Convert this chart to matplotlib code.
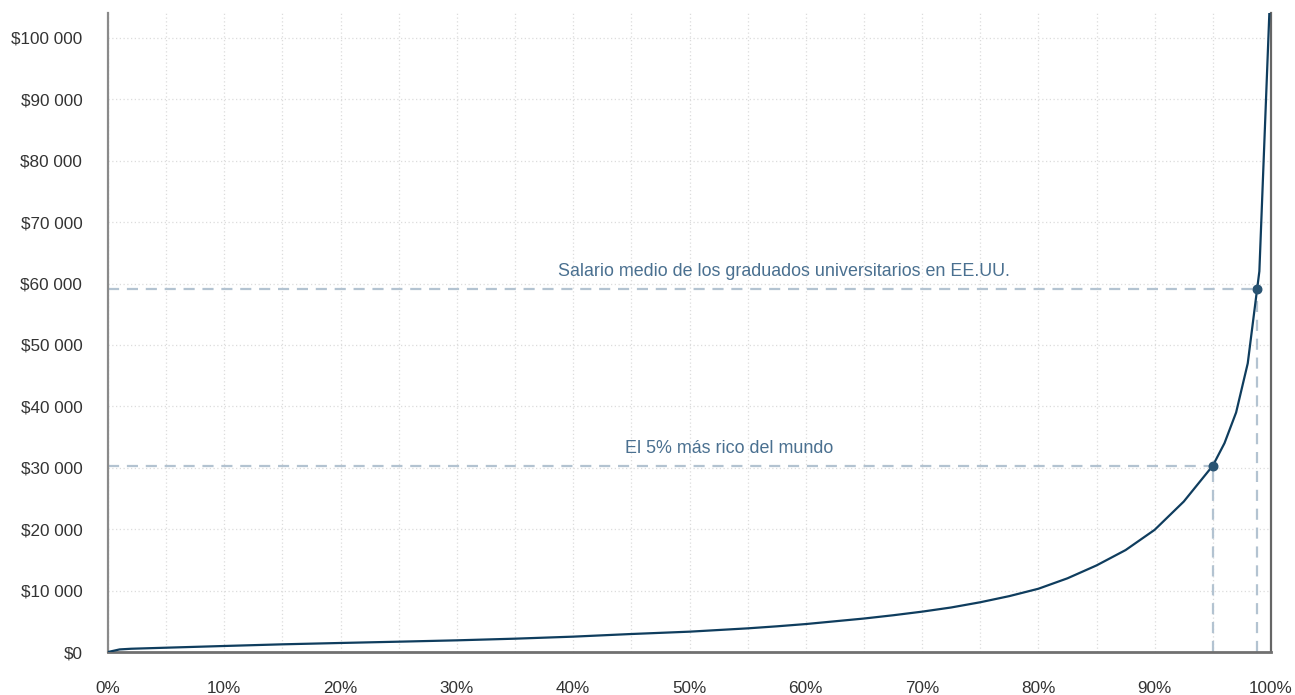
import numpy as np
import matplotlib
matplotlib.use("Agg")
import matplotlib.pyplot as plt
from matplotlib.ticker import FuncFormatter, MultipleLocator

plt.rcParams["font.family"] = ["Liberation Sans", "DejaVu Sans"]

# ---------------------------------------------------------------------------
# data: income percentile (%) -> yearly income ($)
percentile = [0, 1, 2, 5, 10, 15, 20, 25, 30, 35, 40, 45, 50, 55, 57.5, 60,
              62.5, 65, 67.5, 70, 72.5, 75, 77.5, 80, 82.5, 85, 87.5, 90,
              92.5, 95, 96, 97, 98, 99, 100]
income = [0, 420, 530, 700, 980, 1250, 1470, 1680, 1900, 2170, 2500, 2930,
          3310, 3850, 4180, 4550, 5000, 5450, 5980, 6570, 7250, 8100, 9100,
          10300, 12000, 14100, 16600, 19900, 24500, 30350, 34000, 39000,
          47000, 62000, 111000]

# highlighted points
marks_pct = [95.0, 98.77]
marks_val = [30350, 59100]
marks_txt = ["El 5% más rico del mundo",
             "Salario medio de los graduados universitarios en EE.UU."]
txt_x = [53.4, 58.1]
txt_y = [33100, 61900]

x_ticks = list(range(0, 101, 10))
y_ticks = list(range(0, 100001, 10000))
# ---------------------------------------------------------------------------

line_col = "#0f3d5e"
dash_col = "#b3c3d1"
text_col = "#4a7090"

fig = plt.figure(figsize=(12.95, 6.95), dpi=100)
ax = fig.add_axes([108 / 1295, 43 / 695, 1163 / 1295, 639 / 695])

ax.set_xlim(0, 100)
ax.set_ylim(0, 104050)

ax.xaxis.set_minor_locator(MultipleLocator(5))
ax.set_xticks(x_ticks)
ax.set_yticks(y_ticks)
ax.grid(True, which="both", axis="x", linestyle=(0, (1, 2)), color="#dcdcdc", linewidth=0.9)
ax.grid(True, which="major", axis="y", linestyle=(0, (1, 2)), color="#dcdcdc", linewidth=0.9)
ax.set_axisbelow(True)

ax.xaxis.set_major_formatter(FuncFormatter(lambda v, p: f"{int(v)}%"))
ax.yaxis.set_major_formatter(
    FuncFormatter(lambda v, p: "$" + f"{int(v):,}".replace(",", " ")))
ax.tick_params(axis="both", which="both", length=0, labelsize=12.3,
               colors="#333333")
ax.tick_params(axis="y", pad=18.5)
ax.tick_params(axis="x", pad=21)

ax.spines["top"].set_visible(False)
ax.spines["left"].set_color("#8a8a8a")
ax.spines["left"].set_linewidth(1.6)
ax.spines["bottom"].set_color("#707070")
ax.spines["bottom"].set_linewidth(2.0)
ax.spines["right"].set_color("#666666")
ax.spines["right"].set_linewidth(1.6)

# dashed guides to highlighted points
for px, pv in zip(marks_pct, marks_val):
    ax.plot([0, px], [pv, pv], color=dash_col, linestyle=(0, (5, 3.5)),
            linewidth=1.6, zorder=2)
    ax.plot([px, px], [0, pv], color=dash_col, linestyle=(0, (5, 3.5)),
            linewidth=1.6, zorder=2)

ax.plot(percentile, income, color=line_col, linewidth=1.6, zorder=3)
ax.scatter(marks_pct, marks_val, s=38, color="#2a5473", zorder=4)

for t, tx, ty in zip(marks_txt, txt_x, txt_y):
    ax.text(tx, ty, t, ha="center", va="center", fontsize=12.9,
            color=text_col)

fig.savefig("out.png", dpi=100)
